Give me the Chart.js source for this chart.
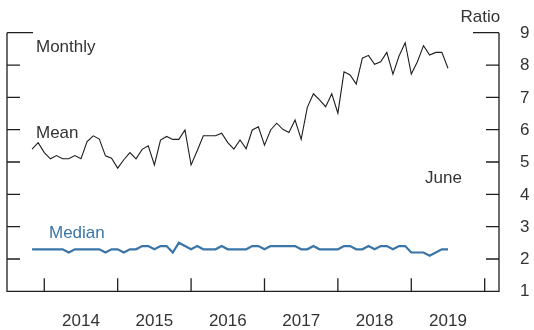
<!DOCTYPE html>
<html>
<head>
<meta charset="utf-8">
<style>
  html, body { margin: 0; padding: 0; background: #ffffff; }
  #wrap { width: 534px; height: 330px; }
</style>
<script src="https://cdn.jsdelivr.net/npm/chart.js@4/dist/chart.umd.min.js"></script>
</head>
<body>
<div id="wrap"><canvas id="chart" width="534" height="330"></canvas></div>
<script>
// Monthly ratio, October 2013 through June 2019
const firstYear = 2013;
const firstMonth = 10; // October
const meanValues = [
  5.40, 5.60, 5.29, 5.10, 5.20, 5.10, 5.10, 5.20, 5.10, 5.63, 5.81, 5.71,
  5.19, 5.12, 4.81, 5.07, 5.29, 5.10, 5.39, 5.50, 4.91, 5.68, 5.79, 5.70,
  5.70, 5.99, 4.91, 5.35, 5.81, 5.81, 5.81, 5.89, 5.60, 5.40, 5.68, 5.41,
  5.99, 6.09, 5.52, 5.99, 6.20, 6.01, 5.91, 6.30, 5.70, 6.69, 7.11, 6.92,
  6.71, 7.11, 6.51, 7.79, 7.69, 7.41, 8.21, 8.30, 8.02, 8.10, 8.39, 7.72,
  8.28, 8.69, 7.72, 8.10, 8.60, 8.31, 8.39, 8.39, 7.90
];
const medianValues = [
  2.3, 2.3, 2.3, 2.3, 2.3, 2.3, 2.2, 2.3, 2.3, 2.3, 2.3, 2.3,
  2.2, 2.3, 2.3, 2.2, 2.3, 2.3, 2.4, 2.4, 2.3, 2.4, 2.4, 2.2,
  2.5, 2.4, 2.3, 2.4, 2.3, 2.3, 2.3, 2.4, 2.3, 2.3, 2.3, 2.3,
  2.4, 2.4, 2.3, 2.4, 2.4, 2.4, 2.4, 2.4, 2.3, 2.3, 2.4, 2.3,
  2.3, 2.3, 2.3, 2.4, 2.4, 2.3, 2.3, 2.4, 2.3, 2.4, 2.4, 2.3,
  2.4, 2.4, 2.2, 2.2, 2.2, 2.1, 2.2, 2.3, 2.3
];
const yTicks = [1, 2, 3, 4, 5, 6, 7, 8, 9];
const yearTicks = [2014, 2015, 2016, 2017, 2018, 2019, 2020];
const yearLabels = ['2014', '2015', '2016', '2017', '2018', '2019'];

// Each monthly observation sits at the end of its month
const monthPositions = meanValues.map((_, i) => firstYear + (firstMonth + i) / 12);
const toPoints = vals => vals.map((v, i) => ({ x: monthPositions[i], y: v }));

const INK = '#1e1e1e';
const TEXT = '#333333';
const BLUE = '#3a75a8';
const FONT = '17px "Liberation Sans", Arial, Helvetica, sans-serif';

const framePlugin = {
  id: 'frame',
  afterDatasetsDraw(chart) {
    const { ctx, chartArea: a, scales: { x, y } } = chart;
    ctx.save();
    ctx.strokeStyle = INK;
    ctx.lineWidth = 1.3;
    ctx.lineCap = 'butt';

    // left, right and bottom axis lines
    ctx.beginPath();
    ctx.moveTo(a.left, a.top);
    ctx.lineTo(a.left, a.bottom);
    ctx.lineTo(a.right, a.bottom);
    ctx.lineTo(a.right, a.top);
    ctx.stroke();

    // inward ticks on both vertical axes
    yTicks.forEach(t => {
      if (t === yTicks[0]) return;
      const py = y.getPixelForValue(t);
      const len = t === yTicks[yTicks.length - 1] ? 26 : 13;
      ctx.beginPath();
      ctx.moveTo(a.left, py);
      ctx.lineTo(a.left + len, py);
      ctx.moveTo(a.right, py);
      ctx.lineTo(a.right - len, py);
      ctx.stroke();
    });

    // year boundary ticks on the bottom axis
    yearTicks.forEach(t => {
      const px = x.getPixelForValue(t);
      ctx.beginPath();
      ctx.moveTo(px, a.bottom);
      ctx.lineTo(px, a.bottom - 13);
      ctx.stroke();
    });

    ctx.font = FONT;
    ctx.fillStyle = TEXT;

    // right axis labels
    ctx.textAlign = 'left';
    ctx.textBaseline = 'middle';
    yTicks.forEach(t => {
      ctx.fillText(String(t), a.right + 21, y.getPixelForValue(t) + 0.5);
    });

    // year labels centred in each year
    ctx.textAlign = 'center';
    ctx.textBaseline = 'alphabetic';
    yearLabels.forEach((lab, i) => {
      const px = (x.getPixelForValue(yearTicks[i]) + x.getPixelForValue(yearTicks[i + 1])) / 2;
      ctx.fillText(lab, px, 325.5);
    });

    // annotations
    ctx.textAlign = 'left';
    ctx.fillText('Ratio', 460.5, 21.5);
    ctx.fillText('Monthly', 36, 51.5);
    ctx.fillText('Mean', 36, 138.3);
    ctx.fillText('June', 425, 183.3);
    ctx.fillStyle = BLUE;
    ctx.fillText('Median', 49, 238.3);
    ctx.restore();
  }
};

new Chart(document.getElementById('chart'), {
  type: 'line',
  data: {
    datasets: [
      {
        label: 'Mean',
        data: toPoints(meanValues),
        borderColor: INK,
        borderWidth: 1.1,
        pointRadius: 0,
        tension: 0,
        fill: false
      },
      {
        label: 'Median',
        data: toPoints(medianValues),
        borderColor: BLUE,
        borderWidth: 2.2,
        pointRadius: 0,
        tension: 0,
        fill: false
      }
    ]
  },
  options: {
    responsive: false,
    animation: false,
    devicePixelRatio: 1,
    layout: { padding: { left: 7, right: 35, top: 32.7, bottom: 38.7 } },
    plugins: { legend: { display: false }, tooltip: { enabled: false } },
    scales: {
      x: { type: 'linear', min: 2013.492, max: 2020.195, display: false },
      y: { type: 'linear', min: 1, max: 9, display: false }
    }
  },
  plugins: [framePlugin]
});
</script>
</body>
</html>
